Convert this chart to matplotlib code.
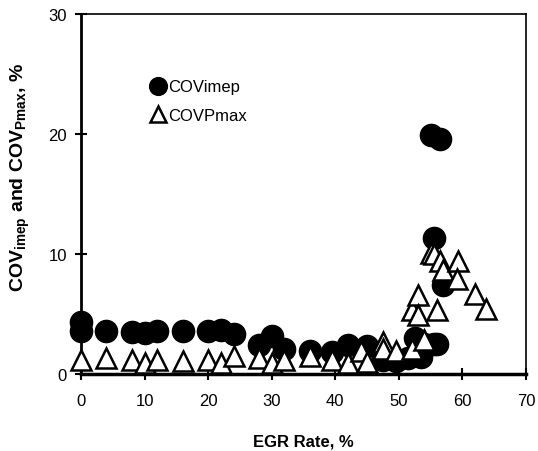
import matplotlib
matplotlib.use("Agg")
import matplotlib.pyplot as plt

plt.rcParams['font.family'] = ['Liberation Sans', 'DejaVu Sans']
plt.rcParams['mathtext.fontset'] = 'custom'
plt.rcParams['mathtext.rm'] = 'Liberation Sans:bold'
plt.rcParams['mathtext.it'] = 'Liberation Sans:bold'
plt.rcParams['mathtext.bf'] = 'Liberation Sans:bold'

# COVimep data (EGR rate %, COV %)
imep_x = [0, 0, 4, 8, 10, 12, 16, 20, 22, 24, 28, 30, 32, 36, 39.5, 42, 45,
          47.5, 49.5, 51.5, 52.5, 53.5, 54, 55.5, 56, 55, 56.5, 55.5, 57]
imep_y = [4.3, 3.6, 3.6, 3.5, 3.4, 3.6, 3.6, 3.6, 3.7, 3.3, 2.4, 3.2, 2.1, 1.9, 1.8, 2.4, 2.3,
          1.2, 1.1, 1.3, 3.0, 1.4, 2.5, 2.5, 2.5, 19.9, 19.6, 11.3, 7.4]

# COVPmax data
pmax_x = [0, 4, 8, 10, 12, 16, 20, 22, 24, 28, 30, 32, 36, 39.5, 42, 44, 45,
          47.5, 47.5, 49.5, 52, 54, 52, 53, 53, 56, 55, 55.5, 56.5, 57, 59.3, 59.2, 62, 63.7]
pmax_y = [1.2, 1.3, 1.2, 0.95, 1.2, 1.1, 1.15, 0.95, 1.5, 1.3, 0.9, 1.2, 1.5, 1.2, 0.9, 1.9, 1.0,
          2.7, 2.1, 1.9, 2.1, 2.8, 5.3, 6.6, 4.9, 5.3, 10.1, 10.0, 9.4, 8.7, 9.4, 7.9, 6.7, 5.4]

xticks = [0, 10, 20, 30, 40, 50, 60, 70]
yticks = [0, 10, 20, 30]

fig = plt.figure(figsize=(5.38, 4.52), dpi=100)
ax = fig.add_axes([81/538, 77/452, 445/538, 360/452])

ax.plot(imep_x, imep_y, 'o', ms=16, color='black', mec='black', clip_on=False,
        label='COVimep', zorder=3)
ax.plot(pmax_x, pmax_y, '^', ms=14, mfc='white', mec='black', mew=1.8, clip_on=False,
        label='COVPmax', zorder=4)

ax.set_xlim(0, 70)
ax.set_ylim(0, 30)
ax.set_xticks(xticks)
ax.set_yticks(yticks)
ax.tick_params(direction='inout', length=8, width=1.5, labelsize=12)
ax.tick_params(axis='x', pad=10)
ax.tick_params(axis='y', pad=6)
for s in ax.spines.values():
    s.set_linewidth(1.2)
ax.spines['left'].set_linewidth(2)
ax.spines['bottom'].set_linewidth(2.5)

ax.set_xlabel('EGR Rate, %', fontsize=12, fontweight='bold', labelpad=18)
ax.set_ylabel(r'COV$_{\mathrm{imep}}$ and COV$_{\mathrm{Pmax}}$, %', fontsize=14,
              fontweight='bold', va='center')
ax.yaxis.set_label_coords(-0.137, 0.55)

leg = ax.legend(loc='upper left', bbox_to_anchor=(0.12, 0.86), frameon=False,
                fontsize=12, markerscale=0.8, handletextpad=0.1, labelspacing=0.8,
                handlelength=1.0)

fig.savefig('out.png', dpi=100)
